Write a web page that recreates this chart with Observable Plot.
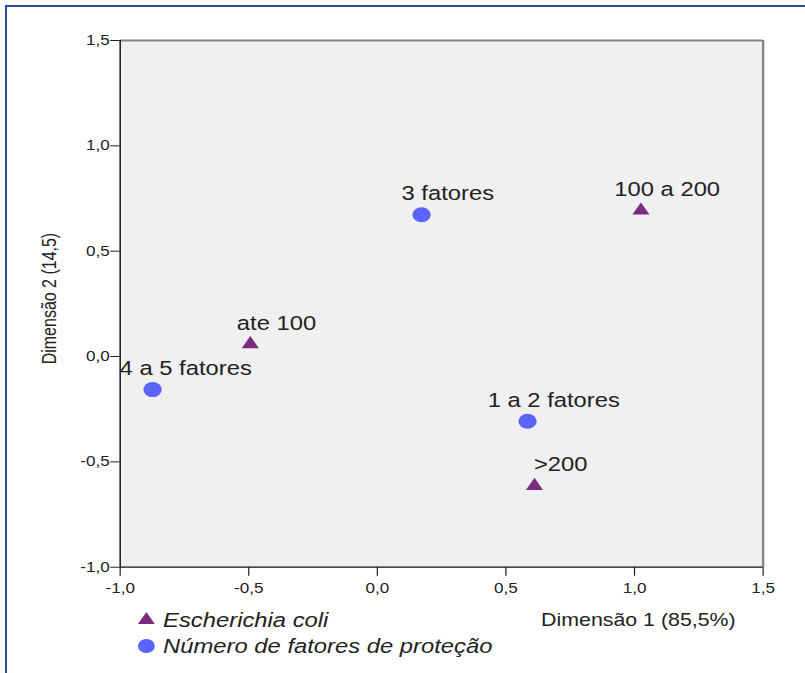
<!DOCTYPE html>
<html>
<head>
<meta charset="utf-8">
<script src="https://cdn.jsdelivr.net/npm/d3@7"></script>
<script src="https://cdn.jsdelivr.net/npm/@observablehq/plot@0.6"></script>
<style>
  html, body { margin: 0; padding: 0; background: #fff; overflow: hidden; }
  #page { position: relative; width: 805px; height: 673px; overflow: hidden; }
  #border { position: absolute; left: 5px; top: 5px; width: 1000px; height: 1000px;
            border-top: 2px solid #2c4c9a; border-left: 2px solid #2c4c9a; }
  /* the whole figure is drawn with a slightly wide aspect */
  #chart { position: absolute; left: 0; top: 0; width: 660px; height: 673px;
           transform: scaleX(1.22); transform-origin: 0 0; }
  #legend { position: absolute; left: 111px; top: 607px;
            font-family: "Liberation Sans", Arial, sans-serif; font-style: italic;
            font-size: 19.5px; color: #222; }
  #legend .row { display: flex; align-items: center; height: 26px; line-height: 26px; white-space: nowrap; }
  #legend svg { width: 18px; height: 18px; margin-right: 4.7px; flex: none; }
</style>
</head>
<body>
<div id="page">
  <div id="border"></div>
  <div id="chart"><div id="legend"></div></div>
</div>
<script>
// Category points of the correspondence analysis (Dimensão 1, Dimensão 2)
const seriesNames = ["Escherichia coli", "Número de fatores de proteção"];
const seriesColors = ["#7b2c7e", "#5b63fd"];

const ecoliLabels = ["ate 100", "100 a 200", ">200"];
const ecoliDim1 = [-0.494, 1.025, 0.611];
const ecoliDim2 = [0.059, 0.693, -0.614];

const fatoresLabels = ["1 a 2 fatores", "3 fatores", "4 a 5 fatores"];
const fatoresDim1 = [0.584, 0.172, -0.874];
const fatoresDim2 = [-0.307, 0.673, -0.157];

const xTicks = [-1.0, -0.5, 0.0, 0.5, 1.0, 1.5];
const yTicks = [-1.0, -0.5, 0.0, 0.5, 1.0, 1.5];
const xTitle = "Dimensão 1 (85,5%)";
const yTitle = "Dimensão 2 (14,5)";

const fmt = d3.formatLocale({decimal: ",", thousands: ".", grouping: [3], currency: ["", ""], minus: "-"}).format(".1f");

const ecoli = ecoliLabels.map((label, i) => ({label, x: ecoliDim1[i], y: ecoliDim2[i]}));
const fatores = fatoresLabels.map((label, i) => ({label, x: fatoresDim1[i], y: fatoresDim2[i]}));
const allPoints = [...ecoli, ...fatores];

const marginLeft = 98;
const stretch = 1.22;

const chart = Plot.plot({
  width: 660,
  height: 640,
  marginLeft,
  marginRight: 35,
  marginTop: 40,
  marginBottom: 73.3,
  style: {fontFamily: "'Liberation Sans', Arial, sans-serif", fontSize: "14px", color: "#222", background: "transparent", overflow: "visible"},
  x: {domain: [-1, 1.5]},
  y: {domain: [-1, 1.5]},
  marks: [
    Plot.frame({fill: "#f0f0f0", stroke: "none"}),
    Plot.ruleY([1.5], {stroke: "#858585", strokeWidth: 2}),
    Plot.ruleX([1.5], {stroke: "#858585", strokeWidth: 2}),
    Plot.ruleX([-1], {stroke: "#111", strokeWidth: 1.2}),
    Plot.ruleY([-1], {stroke: "#111", strokeWidth: 1.2}),
    Plot.axisX({ticks: xTicks, tickFormat: fmt, tickSize: 9, tickPadding: 7, label: null}),
    Plot.axisY({ticks: yTicks, tickFormat: fmt, tickSize: 7.6, tickPadding: 1, label: null}),
    Plot.text([xTitle], {text: d => d, frameAnchor: "bottom-right", textAnchor: "end", lineAnchor: "bottom",
                         dx: -22.5, dy: 58.3, fontSize: 17.5, fill: "#222"}),
    Plot.text([yTitle], {text: d => d, frameAnchor: "left", rotate: -90, textAnchor: "middle", lineAnchor: "middle",
                         dx: -58, dy: -5.3, fontSize: 16, fill: "#222"}),
    Plot.dot(ecoli, {x: "x", y: "y", symbol: "triangle", fill: seriesColors[0], r: 5.2}),
    Plot.dot(fatores, {x: "x", y: "y", symbol: "circle", fill: seriesColors[1], r: 7.5}),
    Plot.text(allPoints, {x: "x", y: "y", text: "label", dx: 21.5, dy: -14.5, lineAnchor: "bottom",
                          fontSize: 19.5, fill: "#222"})
  ]
});

const host = document.getElementById("chart");
host.insertBefore(chart, host.firstChild);

// keep point labels inside the plotting area on the left side
const labelSet = new Set(allPoints.map(d => d.label));
const svgRect = chart.getBoundingClientRect();
chart.querySelectorAll("text").forEach(t => {
  if (!labelSet.has(t.textContent)) return;
  const r = t.getBoundingClientRect();
  const left = (r.left - svgRect.left) / stretch;
  if (left < marginLeft) {
    t.setAttribute("transform", `translate(${marginLeft - left},0) ${t.getAttribute("transform") || ""}`);
  }
});

// legend: one row per series
const legend = d3.select("#legend");
const shapes = [d3.symbolTriangle, d3.symbolCircle];
const areas = [84, 150];
seriesNames.forEach((name, i) => {
  const row = legend.append("div").attr("class", "row");
  const s = row.append("svg").attr("viewBox", "-9 -9 18 18");
  s.append("path").attr("d", d3.symbol(shapes[i], areas[i])()).attr("fill", seriesColors[i]);
  row.append("span").text(name);
});
</script>
</body>
</html>
